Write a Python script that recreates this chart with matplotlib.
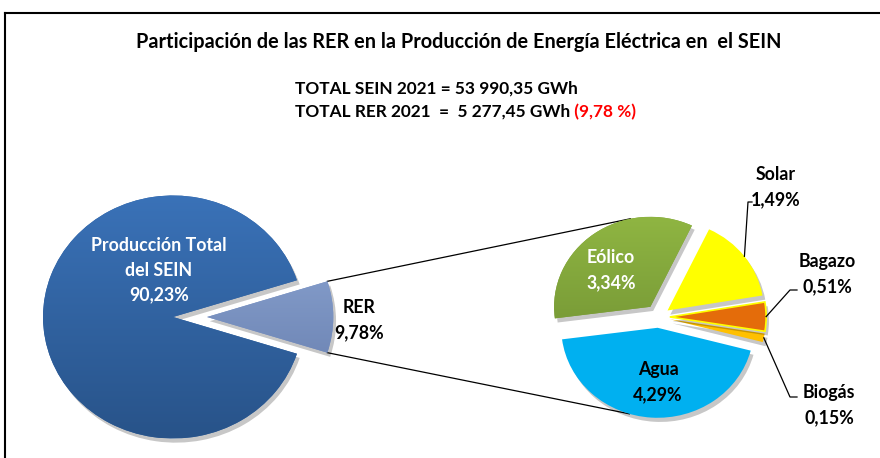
import numpy as np
import matplotlib
matplotlib.use("Agg")
import matplotlib.pyplot as plt
from matplotlib.patheffects import SimplePatchShadow, Normal
from matplotlib.lines import Line2D
from matplotlib.colors import to_rgb

plt.rcParams['font.family'] = ['Lato', 'DejaVu Sans']
plt.rcParams['font.weight'] = 'bold'

# ---------------- data ----------------
title = "Participación de las RER en la Producción de Energía Eléctrica en  el SEIN"
year = 2021
total_sein = 53990.35
total_rer = 5277.45

main_labels = ["RER", "Producción Total\ndel SEIN"]
main_values = [9.78, 90.23]
main_colors = ["#7b93c6", "#3163a3"]

rer_labels = ["Biogás", "Bagazo", "Solar", "Eólico", "Agua"]
rer_values = [0.15, 0.51, 1.49, 3.34, 4.29]
rer_colors = ["#ffc000", "#e46c0a", "#ffff00", "#7ea03a", "#00b0f0"]


def fmt_pct(v):
    return f"{v:.2f}".replace(".", ",") + "%"


def fmt_gwh(v):
    s = f"{v:,.2f}"
    return s.replace(",", " ").replace(".", ",")


W, H = 880, 458
SX = 1.07  # horizontal stretch of the original picture

fig = plt.figure(figsize=(W / 100, H / 100), dpi=100)
ax = fig.add_axes([0, 0, 1, 1])


def P(x, y):
    """pixel position -> data position"""
    return (x / SX, H - y)


shadow = [SimplePatchShadow(offset=(2, -3), shadow_rgbFace="k", alpha=0.22), Normal()]

# ---------------- main pie ----------------
R1 = 121.5
c1 = P(173, 317)
tot = sum(main_values)
start1 = -180 * main_values[0] / tot
w_main, _ = ax.pie(main_values, colors=main_colors, radius=R1, center=c1,
                   startangle=start1, explode=[31.8, 0],
                   wedgeprops=dict(linewidth=0))
w_main[0].set_radius(118)
for w in w_main:
    w.set_path_effects(shadow)

# ---------------- secondary pie ----------------
R2 = 90
c2 = P(658.3, 317)
start2 = -14.7
expl2 = [0.12 * R2, 0.12 * R2, 0.12 * R2, 0.14 * R2, 0.12 * R2]
w_rer, _ = ax.pie(rer_values, colors=rer_colors, radius=R2, center=c2,
                  startangle=start2, explode=expl2,
                  wedgeprops=dict(linewidth=0))
for w in w_rer:
    w.set_path_effects(shadow)
w_rer[1].set_edgecolor("#ffff00")
w_rer[1].set_linewidth(1.2)


def gradient(wedge, top, bottom):
    cx, cy = wedge.center
    r = wedge.r
    g = np.linspace(0, 1, 256)[:, None, None]
    img = np.array(to_rgb(top))[None, None, :] * (1 - g) + np.array(to_rgb(bottom))[None, None, :] * g
    im = ax.imshow(img, extent=(cx - r, cx + r, cy - r, cy + r), origin="upper",
                   aspect="auto", zorder=wedge.get_zorder() + 0.1, interpolation="bilinear")
    im.set_clip_path(wedge)


gradient(w_main[1], "#3a72b8", "#285389")
gradient(w_main[0], "#93acd9", "#5f76a6")
gradient(w_rer[3], "#8fb542", "#6a8a30")


def arc_point(w, ang):
    cx, cy = w.center
    return (cx + w.r * np.cos(np.radians(ang)), cy + w.r * np.sin(np.radians(ang)))


# connector lines between pies
rer = w_main[0]
p_top = arc_point(rer, rer.theta2)
p_bot = arc_point(rer, rer.theta1)
q_top = arc_point(w_rer[3], 102)
q_bot = arc_point(w_rer[4], 253)
ax.add_line(Line2D([p_top[0], q_top[0]], [p_top[1], q_top[1]], color="k", lw=0.9, zorder=0.5))
ax.add_line(Line2D([p_bot[0], q_bot[0]], [p_bot[1], q_bot[1]], color="k", lw=0.9, zorder=0.5))

# leader lines
def mid(w):
    return 0.5 * (w.theta1 + w.theta2)

leaders = {
    2: [(748, 202), (752, 202)],
    1: [(790, 290), (797, 290)],
    0: [(790, 397), (797, 397)],
}
for i, pts in leaders.items():
    a = arc_point(w_rer[i], mid(w_rer[i]))
    xs = [a[0]] + [P(*p)[0] for p in pts]
    ys = [a[1]] + [P(*p)[1] for p in pts]
    ax.add_line(Line2D(xs, ys, color="k", lw=0.9, zorder=3))

# ---------------- labels ----------------
FS = 12.8
LS = 1.55
ax.text(*P(159, 270), f"{main_labels[1]}\n{fmt_pct(main_values[1])}", color="white",
        fontsize=FS, ha="center", va="center", linespacing=LS, zorder=5)
ax.text(*P(359, 320), f"{main_labels[0]}\n{fmt_pct(main_values[0])}", color="black",
        fontsize=FS, ha="center", va="center", linespacing=LS, zorder=5)

rer_label_pos = {
    "Eólico": (611, 270, "white"),
    "Agua": (658, 382, "black"),
    "Solar": (776, 187, "black"),
    "Bagazo": (827, 274, "black"),
    "Biogás": (829, 405, "black"),
}
for lab, v in zip(rer_labels, rer_values):
    x, y, col = rer_label_pos[lab]
    ax.text(*P(x, y), f"{lab}\n{fmt_pct(v)}", color=col, fontsize=FS,
            ha="center", va="center", linespacing=LS, zorder=5)

# title and totals
fig.text(459 / W, 1 - 42 / H, title, ha="center", va="center", fontsize=14.3, color="black")
fig.text(295 / W, 1 - 89 / H, f"TOTAL SEIN {year} = {fmt_gwh(total_sein)} GWh",
         ha="left", va="center", fontsize=12.4, color="black")
t2 = fig.text(295 / W, 1 - 112 / H, f"TOTAL RER {year}  =  {fmt_gwh(total_rer)} GWh",
              ha="left", va="center", fontsize=12.4, color="black")
ax.annotate(" (" + f"{main_values[0]:.2f}".replace(".", ",") + " %)", xy=(1, 0.5), xycoords=t2,
            ha="left", va="center", fontsize=12.4, color="#ff0000")

# frame
fig.add_artist(Line2D([5 / W, 5 / W], [0, 1 - 13 / H], color="k", lw=1.5, transform=fig.transFigure))
fig.add_artist(Line2D([5 / W, 1], [1 - 13 / H, 1 - 13 / H], color="k", lw=1.5, transform=fig.transFigure))

ax.set_aspect("auto")
ax.set_xlim(0, W / SX)
ax.set_ylim(0, H)
ax.axis("off")

fig.savefig("out.png", dpi=100)
